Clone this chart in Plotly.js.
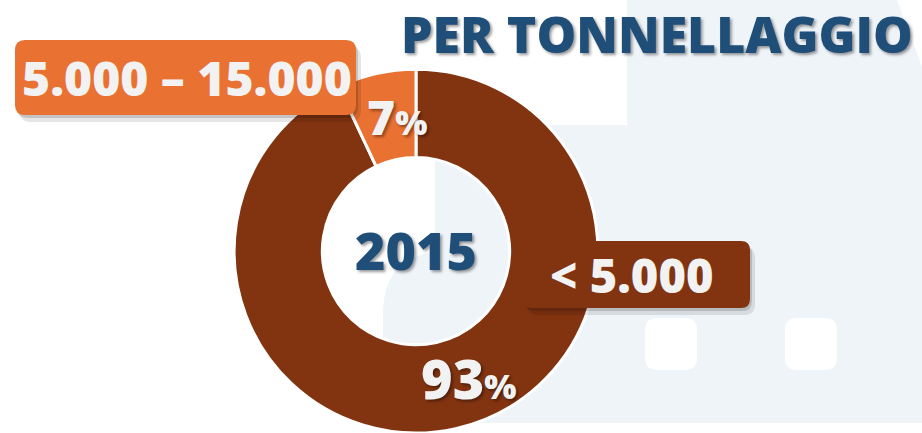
<!DOCTYPE html>
<html><head><meta charset="utf-8">
<script src="https://cdn.plot.ly/plotly-3.0.1.min.js"></script>
<style>html,body{margin:0;padding:0;background:#fff;overflow:hidden}#chart{width:922px;height:433px;}</style>
</head><body><div id="chart"></div>
<script>
// ---- data ----
const categories = ['< 5.000', '5.000 – 15.000'];
const values = [93, 7];
const sliceColors = ['#823411', '#e97132'];
const centerLabel = '2015';
const chartTitle = 'PER TONNELLAGGIO';

// ---- helpers ----
function roundRect(x0, y0, x1, y1, r) {
  return `M${x0 + r},${y0} L${x1 - r},${y0} Q${x1},${y0} ${x1},${y0 + r} L${x1},${y1 - r} Q${x1},${y1} ${x1 - r},${y1} L${x0 + r},${y1} Q${x0},${y1} ${x0},${y1 - r} L${x0},${y0 + r} Q${x0},${y0} ${x0 + r},${y0} Z`;
}
const FONT = '"Open Sans", "DejaVu Sans", sans-serif';
const white = '#f2f2f2';
const navy = '#1f4e79';
const txtShadow = '2px 2px 3px rgba(0,0,0,0.4)';

const shapes = [
  // background ship silhouette
  {type: 'path', layer: 'below', xref: 'x', yref: 'y', line: {width: 0}, fillcolor: '#eff4f9',
   path: 'M627,0 L897,0 L922,67 L922,423 L383,423 L383,310 Q385,258 435,252 L435,125 L627,125 Z'},
  {type: 'path', layer: 'below', xref: 'x', yref: 'y', line: {width: 0}, fillcolor: '#ffffff', path: roundRect(645, 318, 697, 370, 12)},
  {type: 'path', layer: 'below', xref: 'x', yref: 'y', line: {width: 0}, fillcolor: '#ffffff', path: roundRect(785, 318, 837, 370, 12)},
  // label boxes (shadow + box)
  {type: 'path', layer: 'above', xref: 'x', yref: 'y', line: {width: 0}, fillcolor: 'rgba(0,0,0,0.10)', path: roundRect(19, 46, 361, 122, 12)},
  {type: 'path', layer: 'above', xref: 'x', yref: 'y', line: {width: 0}, fillcolor: 'rgba(0,0,0,0.15)', path: roundRect(17, 43, 358, 118, 11)},
  {type: 'path', layer: 'above', xref: 'x', yref: 'y', line: {width: 0}, fillcolor: sliceColors[1], path: roundRect(15, 40, 356, 115, 10)},
  {type: 'path', layer: 'above', xref: 'x', yref: 'y', line: {width: 0}, fillcolor: 'rgba(0,0,0,0.10)', path: roundRect(527, 247, 755, 315, 11)},
  {type: 'path', layer: 'above', xref: 'x', yref: 'y', line: {width: 0}, fillcolor: 'rgba(0,0,0,0.15)', path: roundRect(525, 244, 752, 311, 10)},
  {type: 'path', layer: 'above', xref: 'x', yref: 'y', line: {width: 0}, fillcolor: sliceColors[0], path: roundRect(523, 241, 750, 308, 9)}
];

const annotations = [
  {text: chartTitle, x: 657, y: 34, font: {family: FONT, size: 50, color: navy, weight: 800, shadow: txtShadow}},
  {text: centerLabel, x: 416, y: 249, font: {family: FONT, size: 52, color: navy, weight: 800, shadow: txtShadow}},
  {text: categories[1], x: 187, y: 77, font: {family: FONT, size: 48, color: white, weight: 800}},
  {text: categories[0], x: 632, y: 275, font: {family: FONT, size: 47, color: white, weight: 800}},
  {text: values[1] + '<span style="font-size:34px">%</span>', x: 397, y: 116, font: {family: FONT, size: 48, color: white, weight: 800, shadow: txtShadow}},
  {text: values[0] + '<span style="font-size:34px">%</span>', x: 469, y: 378, font: {family: FONT, size: 54, color: white, weight: 800, shadow: txtShadow}}
].map(a => Object.assign({xref: 'x', yref: 'y', showarrow: false, xanchor: 'center', yanchor: 'middle'}, a));

const data = [
  {type: 'scatter', x: [], y: [], hoverinfo: 'skip', showlegend: false},
  {type: 'pie', labels: categories, values: values, sort: false, direction: 'clockwise', rotation: 0,
   hole: 0.515, textinfo: 'none', hoverinfo: 'label+percent', showlegend: false,
   marker: {colors: sliceColors, line: {color: '#ffffff', width: 3}},
   domain: {x: [(416 - 182) / 922, (416 + 182) / 922], y: [0, 0.84]}}
];

const layout = {
  width: 922, height: 433, margin: {l: 0, r: 0, t: 0, b: 0},
  paper_bgcolor: '#ffffff', plot_bgcolor: 'rgba(0,0,0,0)',
  xaxis: {range: [0, 922], visible: false, fixedrange: true, domain: [0, 1]},
  yaxis: {range: [433, 0], visible: false, fixedrange: true, domain: [0, 1]},
  shapes: shapes, annotations: annotations, showlegend: false
};

Plotly.newPlot('chart', data, layout, {displayModeBar: false, staticPlot: true});
</script>
</body></html>
